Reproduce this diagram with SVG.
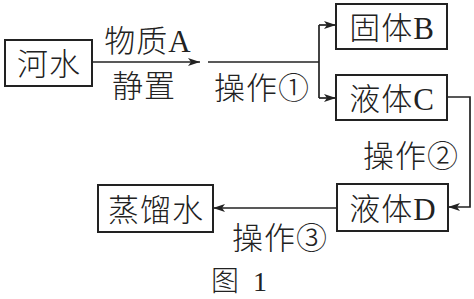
<svg xmlns="http://www.w3.org/2000/svg" width="474" height="299" viewBox="0 0 474 299">
<defs>
<marker id="ah" viewBox="0 0 12 8" refX="12" refY="4" markerWidth="12" markerHeight="8" markerUnits="userSpaceOnUse" orient="auto">
<path d="M0,0 L12,4 L0,8 L3,4 Z" fill="#222"/>
</marker>
</defs>
<style>
.box{fill:#fff;stroke:#222;stroke-width:2}
.ln{fill:none;stroke:#222;stroke-width:1.7}
text{font-family:"Liberation Serif","Noto Sans CJK SC",serif;font-size:31px;fill:#222;font-weight:300;letter-spacing:1px}
.c{text-anchor:middle}
</style>
<rect width="474" height="299" fill="#fff"/>
<g id="connectors">
<path class="ln" d="M92,62 H200" marker-end="url(#ah)"/>
<path class="ln" d="M208,62 H319"/>
<path class="ln" d="M319,25 V98"/>
<path class="ln" d="M319,25 H336" marker-end="url(#ah)"/>
<path class="ln" d="M319,98 H336" marker-end="url(#ah)"/>
<path class="ln" d="M447,97 H470 V207 H448" marker-end="url(#ah)"/>
<path class="ln" d="M337,208 H213" marker-end="url(#ah)"/>
<text x="148" y="52" class="c">物质A</text>
<text x="144" y="97" class="c">静置</text>
<text x="262" y="99" class="c">操作①</text>
<text x="411" y="167" class="c">操作②</text>
<text x="280" y="249" class="c">操作③</text>
</g>
<g id="n1"><rect class="box" x="5" y="40" width="87" height="46"/><text x="49" y="75" class="c">河水</text></g>
<g id="n2"><rect class="box" x="336" y="4" width="111" height="45"/><text x="392" y="39" class="c">固体B</text></g>
<g id="n3"><rect class="box" x="336" y="75" width="111" height="45"/><text x="392" y="110" class="c">液体C</text></g>
<g id="n4"><rect class="box" x="337" y="184" width="111" height="47"/><text x="393" y="220" class="c">液体D</text></g>
<g id="n5"><rect class="box" x="98" y="185" width="115" height="47"/><text x="156" y="221" class="c">蒸馏水</text></g>
<text x="211" y="291" style="font-size:28px">图<tspan x="253">1</tspan></text>
</svg>
